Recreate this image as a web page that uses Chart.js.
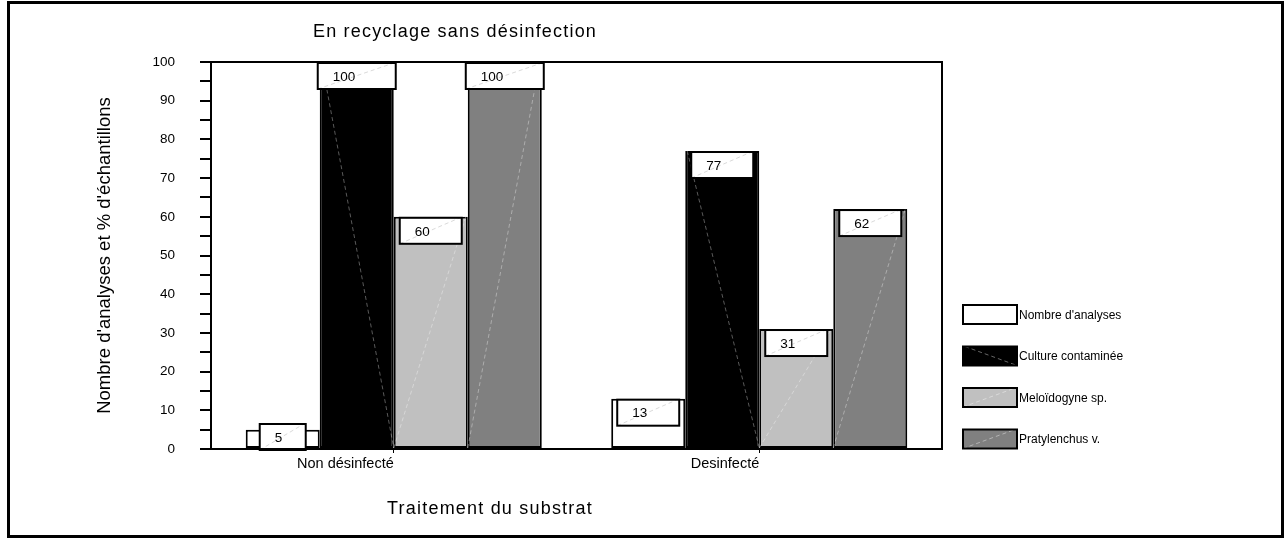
<!DOCTYPE html>
<html>
<head>
<meta charset="utf-8">
<script src="https://cdn.jsdelivr.net/npm/chart.js@4"></script>
<style>
    html, body { margin: 0; padding: 0; background: #fff; }
    #wrap { position: relative; width: 1286px; height: 540px; }
    #frame {
        position: absolute; left: 7px; top: 1px; width: 1277px; height: 537px;
        box-sizing: border-box; border: 3px solid #000; pointer-events: none;
    }
</style>
</head>
<body>
<div id="wrap">
    <canvas id="chart" width="1286" height="540"></canvas>
    <div id="frame"></div>
</div>
<script>
const categories = ['Non désinfecté', 'Desinfecté'];
const seriesNames = ['Nombre d\'analyses', 'Culture contaminée', 'Meloïdogyne sp.', 'Pratylenchus v.'];
const nombreAnalyses = [5, 13];
const cultureContaminee = [100, 77];
const meloidogyne = [60, 31];
const pratylenchus = [100, 62];
const seriesColors = ['#ffffff', '#000000', '#c0c0c0', '#808080'];

const FONT = "'Liberation Sans', Arial, sans-serif";

// faint diagonal seen on each filled area of the original picture
function drawDiag(ctx, kind, l, t, r, b, color) {
    if (!kind) return;
    ctx.save();
    ctx.strokeStyle = color;
    ctx.lineWidth = 1;
    ctx.setLineDash([4, 3]);
    ctx.beginPath();
    if (kind === '\\') { ctx.moveTo(l + 2, t); ctx.lineTo(r, b); }
    else { ctx.moveTo(l, b); ctx.lineTo(r - 2, t); }
    ctx.stroke();
    ctx.restore();
}
const diagKinds = [null, '\\', '/', '/'];

const decorations = {
    id: 'decorations',
    afterDatasetsDraw(chart) {
        const ctx = chart.ctx;
        const area = chart.chartArea;
        const bars = [];
        chart.data.datasets.forEach((ds, di) => {
            chart.getDatasetMeta(di).data.forEach((bar, i) => {
                const p = bar.getProps(['x', 'y', 'base', 'width'], true);
                bars.push({ p, di, value: ds.data[i] });
            });
        });
        bars.forEach(({ p, di }) => {
            drawDiag(ctx, diagKinds[di], p.x - p.width / 2, p.y, p.x + p.width / 2, p.base, 'rgba(255,255,255,0.35)');
        });
        // value boxes
        bars.forEach(({ p, value }) => {
            const txt = String(value);
            const w = 30 + 16 * txt.length;
            const h = 26;
            const top = Math.min(p.y + 1, p.base + 2 - h);
            const left = p.x - w / 2;
            ctx.save();
            ctx.fillStyle = '#fff';
            ctx.fillRect(left, top, w, h);
            drawDiag(ctx, '/', left, top, left + w, top + h, '#dadada');
            ctx.strokeStyle = '#000';
            ctx.lineWidth = 2;
            ctx.strokeRect(left, top, w, h);
            ctx.fillStyle = '#000';
            ctx.font = '13.5px ' + FONT;
            ctx.textBaseline = 'middle';
            ctx.textAlign = 'left';
            ctx.fillText(txt, left + 15, top + h / 2 + 1);
            ctx.restore();
        });
        // frame around plot
        ctx.save();
        ctx.strokeStyle = '#000';
        ctx.lineWidth = 2;
        ctx.strokeRect(area.left, area.top, area.right - area.left, area.bottom - area.top);
        ctx.restore();
    },
    afterDraw(chart) {
        const ctx = chart.ctx;
        ctx.save();
        ctx.fillStyle = '#000';
        ctx.font = '18px ' + FONT;
        ctx.letterSpacing = '1.2px';
        ctx.textAlign = 'center';
        ctx.textBaseline = 'middle';
        ctx.fillText('En recyclage sans désinfection', 455, 32);
        ctx.fillText('Traitement du substrat', 490, 509);
        ctx.restore();

        // legend
        ctx.save();
        chart.data.datasets.forEach((ds, i) => {
            const x = 963, w = 54, h = 19;
            const top = 305 + i * 41.5;
            ctx.fillStyle = ds.backgroundColor;
            ctx.fillRect(x, top, w, h);
            drawDiag(ctx, diagKinds[i], x, top, x + w, top + h, 'rgba(255,255,255,0.4)');
            ctx.strokeStyle = '#000';
            ctx.lineWidth = 2;
            ctx.strokeRect(x, top, w, h);
            ctx.fillStyle = '#000';
            ctx.font = '12px ' + FONT;
            ctx.textAlign = 'left';
            ctx.textBaseline = 'middle';
            ctx.fillText(ds.label, x + w + 2, top + h / 2 + 1);
        });
        ctx.restore();
    }
};

const seriesValues = [nombreAnalyses, cultureContaminee, meloidogyne, pratylenchus];

new Chart(document.getElementById('chart'), {
    type: 'bar',
    data: {
        labels: categories,
        datasets: seriesNames.map((name, i) => ({
            label: name,
            data: seriesValues[i],
            backgroundColor: seriesColors[i],
            borderColor: '#000',
            borderWidth: 2,
            borderSkipped: false
        }))
    },
    options: {
        responsive: false,
        animation: false,
        devicePixelRatio: 1,
        layout: { padding: { left: 90, right: 344, top: 62, bottom: 61 } },
        datasets: { bar: { categoryPercentage: 0.81, barPercentage: 1 } },
        plugins: {
            legend: { display: false },
            tooltip: { enabled: false },
            title: { display: false }
        },
        scales: {
            x: {
                afterFit(scale) { scale.height = 30; },
                grid: { drawOnChartArea: false, offset: false, tickLength: 4, color: '#000', lineWidth: 1 },
                border: { color: '#000', width: 2 },
                ticks: { color: '#000', align: 'end', padding: 2, font: { family: FONT, size: 14.5 } }
            },
            y: {
                min: 0,
                max: 100,
                afterFit(scale) { scale.width = 121; },
                grid: { drawOnChartArea: false, tickLength: 11, color: '#000', lineWidth: 2 },
                border: { color: '#000', width: 2 },
                ticks: {
                    stepSize: 5,
                    color: '#000',
                    padding: 25,
                    font: { family: FONT, size: 13.5 },
                    callback: v => (v % 10 === 0 ? v : '')
                },
                title: {
                    display: true,
                    text: 'Nombre d\'analyses et % d\'échantillons',
                    color: '#000',
                    font: { family: FONT, size: 18.5 },
                    padding: { top: 4, bottom: 0 }
                }
            }
        }
    },
    plugins: [decorations]
});
</script>
</body>
</html>
